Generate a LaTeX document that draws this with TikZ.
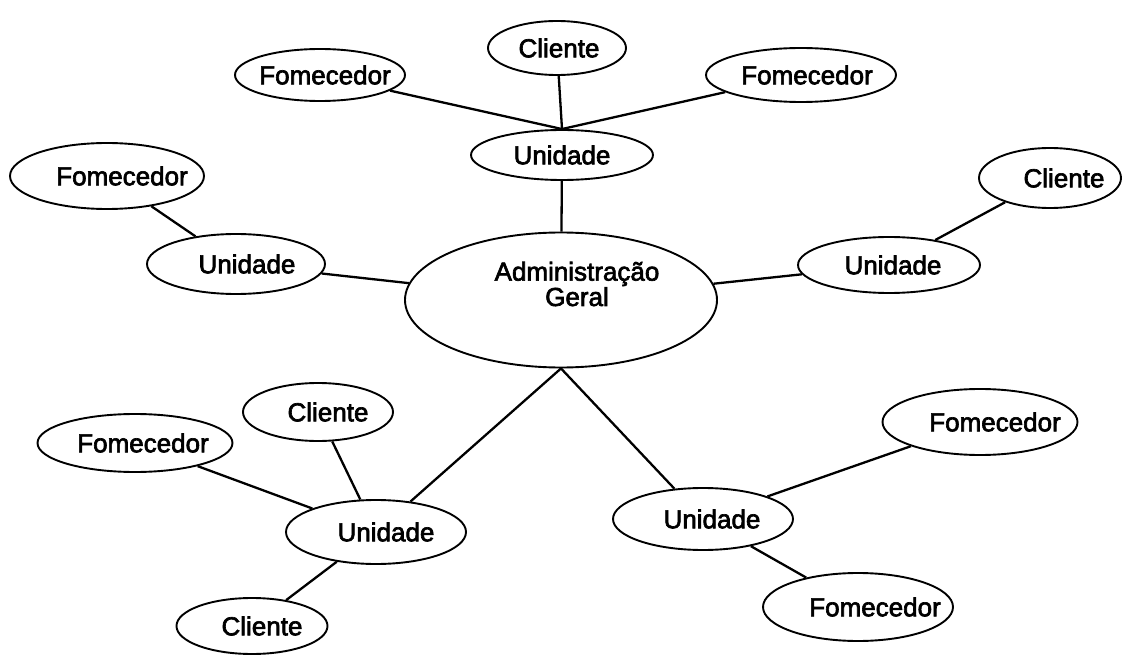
\documentclass[tikz,border=0pt]{standalone}
\usepackage{fontspec}
\setmainfont[FakeBold=2.5]{Liberation Sans}
\usetikzlibrary{shapes.geometric}
\begin{document}
\begin{tikzpicture}[x=1pt,y=-1pt,
  font=\fontsize{26}{26}\selectfont,
  oval/.style={ellipse, draw, line width=1.9pt, inner sep=0pt},
  link/.style={line width=2.3pt},
]
\useasboundingbox (0,0) rectangle (1125,655);

% central node
\node[oval, minimum width=312pt, minimum height=135pt,
  label={[xshift=16pt, yshift=16pt, align=center, font=\fontsize{26}{18}\selectfont]center:Administração\\Geral}] (adm) at (561,300) {};

% top branch
\node[oval, minimum width=182pt, minimum height=50pt, label={center:Unidade}] (uT) at (562,155) {};
\node[oval, minimum width=138pt, minimum height=54pt, label={[xshift=2pt]center:Cliente}] (cT) at (557,48) {};
\node[oval, minimum width=170pt, minimum height=52pt, label={[xshift=5pt]center:Fomecedor}] (fTL) at (320,75) {};
\node[oval, minimum width=190pt, minimum height=54pt, label={[xshift=6pt]center:Fomecedor}] (fTR) at (801,75) {};

% left branch
\node[oval, minimum width=194pt, minimum height=66pt, label={[xshift=15pt]center:Fomecedor}] (fL) at (107,176) {};
\node[oval, minimum width=178pt, minimum height=60pt, label={[xshift=11pt]center:Unidade}] (uL) at (236,264) {};

% right branch
\node[oval, minimum width=182pt, minimum height=56pt, label={[xshift=4pt]center:Unidade}] (uR) at (889,265) {};
\node[oval, minimum width=142pt, minimum height=60pt, label={[xshift=14pt]center:Cliente}] (cR) at (1050,178) {};

% lower left branch
\node[oval, minimum width=180pt, minimum height=64pt, label={[xshift=10pt]center:Unidade}] (uBL) at (376,532) {};
\node[oval, minimum width=150pt, minimum height=58pt, label={[xshift=10pt]center:Cliente}] (cBL) at (318,412) {};
\node[oval, minimum width=195pt, minimum height=58pt, label={[xshift=8pt]center:Fomecedor}] (fBL) at (135,443) {};
\node[oval, minimum width=151pt, minimum height=56pt, label={[xshift=10pt]center:Cliente}] (cBB) at (252,626) {};

% lower right branch
\node[oval, minimum width=180pt, minimum height=62pt, label={[xshift=9pt]center:Unidade}] (uBR) at (703,519) {};
\node[oval, minimum width=195pt, minimum height=66pt, label={[xshift=15pt]center:Fomecedor}] (fBR1) at (980,422) {};
\node[oval, minimum width=190pt, minimum height=68pt, label={[xshift=17pt]center:Fomecedor}] (fBR2) at (858,607) {};

% connectors
\draw[link] (cT) -- (uT.north);
\draw[link] (fTL) -- (uT.north);
\draw[link] (fTR) -- (uT.north);
\draw[link] (uT) -- (adm);
\draw[link] (fL) -- (uL);
\draw[link] (uL) -- (adm);
\draw[link] (uR) -- (adm);
\draw[link] (cR) -- (uR);
\draw[link] (adm.south) -- (uBL);
\draw[link] (adm.south) -- (uBR);
\draw[link] (cBL) -- (uBL);
\draw[link] (fBL) -- (uBL);
\draw[link] (uBL) -- (cBB);
\draw[link] (uBR) -- (fBR1);
\draw[link] (uBR) -- (fBR2);
\end{tikzpicture}
\end{document}
